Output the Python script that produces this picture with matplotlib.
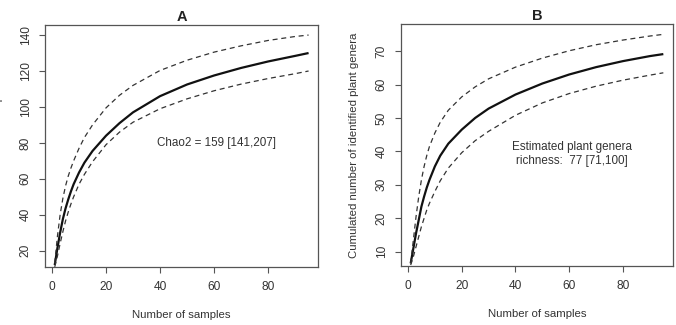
import matplotlib
matplotlib.use("Agg")
import matplotlib.pyplot as plt

plt.rcParams['font.family'] = ['Liberation Sans', 'DejaVu Sans']

# ---- data ----
samples = [1, 2, 3, 4, 5, 6, 7, 8, 10, 12, 15, 20, 25, 30, 40, 50, 60, 70, 80, 90, 95]

a_mean = [12, 21.5, 30, 37.5, 43.5, 48.5, 53, 57, 63.5, 69, 75.5, 84, 91, 97, 106, 112.5, 117.5, 121.7, 125.3, 128.4, 130]
a_upper = [13, 28, 40, 49, 56, 61.5, 66, 70, 77, 83, 90, 99.5, 106.5, 112, 120.3, 126, 130.5, 134, 137, 139.2, 140]
a_lower = [11, 17, 24, 30.5, 36.5, 41.5, 46, 50, 57, 62.5, 69.5, 79, 86, 91.5, 99, 104.5, 109, 112.7, 115.8, 118.5, 120]

b_mean = [6.5, 11, 15.5, 19.5, 23.5, 26.5, 29.2, 31.5, 35.5, 38.7, 42.3, 46.5, 50, 52.8, 57, 60.3, 63, 65.2, 67, 68.5, 69.1]
b_upper = [6.5, 13.5, 20.5, 26.5, 31.5, 35.5, 38.8, 41.5, 45.5, 48.7, 52.3, 56.3, 59.3, 61.7, 65.2, 67.9, 70.1, 71.9, 73.3, 74.5, 75]
b_lower = [6, 8.5, 11.5, 14.5, 17.5, 20, 22.5, 24.5, 28, 31.2, 35, 39.6, 43.2, 46, 50.8, 54.5, 57.3, 59.5, 61.3, 62.8, 63.5]

titles = ["A", "B"]
xlabel = "Number of samples"
ylabels = ["Cumulated number of sequences", "Cumulated number of identified plant genera"]
notes = ["Chao2 = 159 [141,207]", "Estimated plant genera\nrichness:  77 [71,100]"]
note_pos = [(61, 80), (61, 39.3)]
xticks = [0, 20, 40, 60, 80]
yticks_a = [20, 40, 60, 80, 100, 120, 140]
yticks_b = [10, 20, 30, 40, 50, 60, 70]

W, H = 676, 325
fig = plt.figure(figsize=(W / 100, H / 100), dpi=100)

def box(l, r, t, b):
    return [l / W, 1 - b / H, (r - l) / W, (b - t) / H]

axA = fig.add_axes(box(45, 318.3, 25, 266.7))
axB = fig.add_axes(box(401, 673, 24, 265.7))

txt_col = '#333333'
edge_col = '#555555'

for ax, mean, up, lo, title, note, npos, yt, ylim in [
        (axA, a_mean, a_upper, a_lower, titles[0], notes[0], note_pos[0], yticks_a, (11.1, 145.6)),
        (axB, b_mean, b_upper, b_lower, titles[1], notes[1], note_pos[1], yticks_b, (5.8, 78.1))]:
    ax.plot(samples, mean, color='#111111', lw=1.6, solid_capstyle='butt', solid_joinstyle='round')
    ax.plot(samples, up, color='#333333', lw=0.9, linestyle=(0, (4, 3)))
    ax.plot(samples, lo, color='#333333', lw=0.9, linestyle=(0, (4, 3)))
    ax.set_xlim(-2.6, 98.6)
    ax.set_ylim(*ylim)
    ax.set_xticks(xticks)
    ax.set_yticks(yt)
    ax.tick_params(axis='both', direction='out', length=4.5, width=0.8, color=edge_col,
                   labelsize=8.6, labelcolor=txt_col)
    ax.tick_params(axis='x', pad=6)
    ax.tick_params(axis='y', pad=5)
    for lab in ax.get_yticklabels():
        lab.set_rotation(90)
        lab.set_va('center')
    for s in ax.spines.values():
        s.set_color(edge_col)
        s.set_linewidth(0.9)
    ax.set_title(title, fontsize=10.5, fontweight='bold', color='#222222', pad=3)
    ax.set_xlabel(xlabel, fontsize=8.2, color=txt_col, labelpad=12)
    ax.text(npos[0], npos[1], note, ha='center', va='center', fontsize=8.4, color=txt_col,
            linespacing=1.25)

fig.text(-2 / W, 1 - 145.8 / H, ylabels[0], rotation=90, ha='center', va='center',
         fontsize=8.2, color=txt_col)
fig.text(354.3 / W, 1 - 144.9 / H, ylabels[1], rotation=90, ha='center', va='center',
         fontsize=8.2, color=txt_col)

fig.savefig("out.png", dpi=100)
